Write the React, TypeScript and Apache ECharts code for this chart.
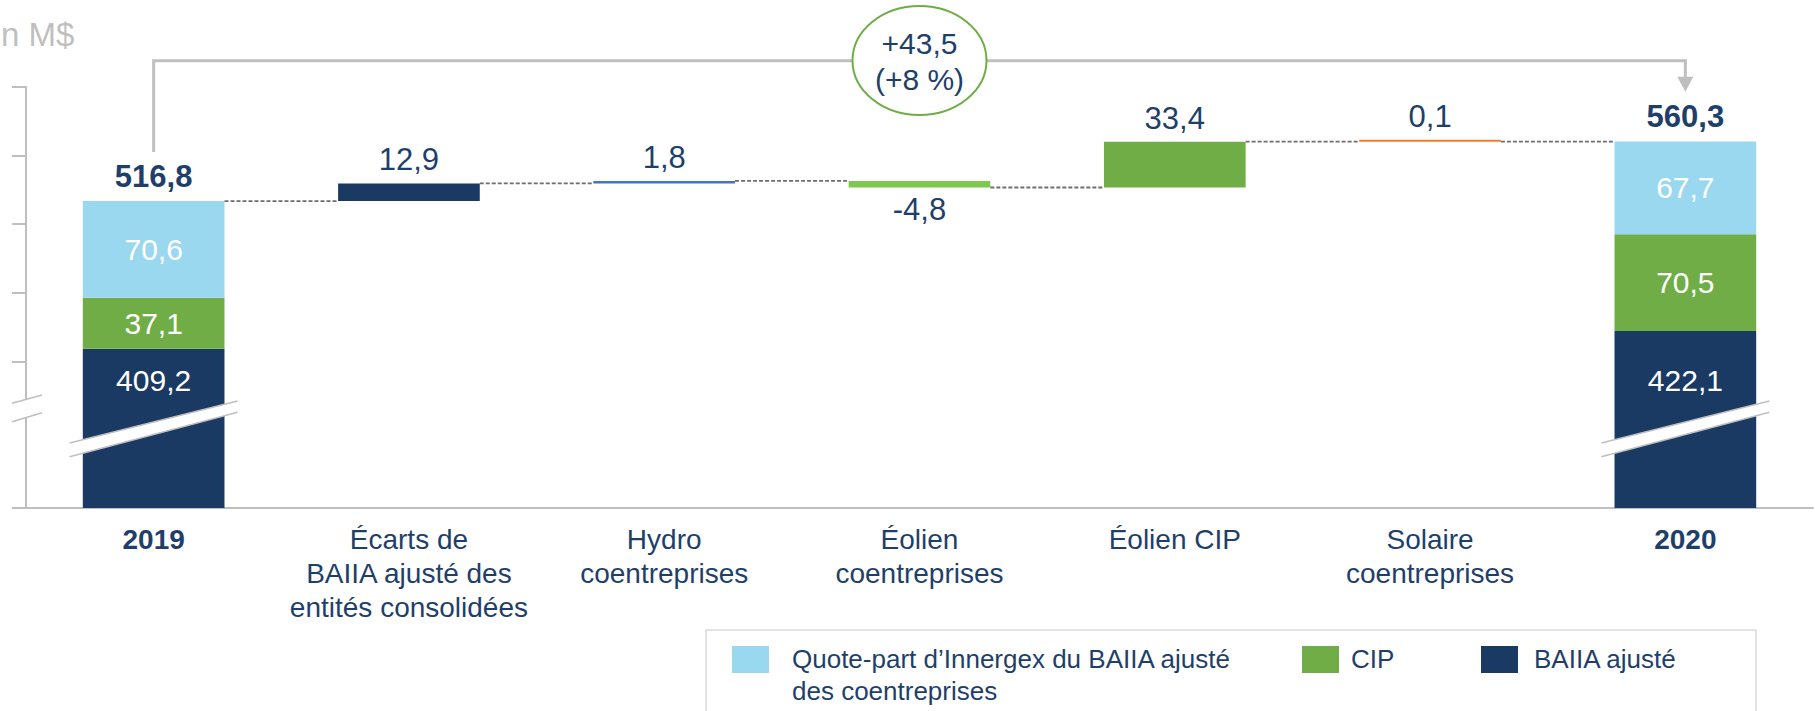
import React, { useEffect, useRef } from 'react';
import * as echarts from 'echarts';

// ---------- data ----------
const categories = [
  '2019',
  'Écarts de\nBAIIA ajusté des\nentités consolidées',
  'Hydro\ncoentreprises',
  'Éolien\ncoentreprises',
  'Éolien CIP',
  'Solaire\ncoentreprises',
  '2020',
];
const yearLabels = ['2019', '2020'];
const baiiaValues = [409.2, null, null, null, null, null, 422.1];
const cipValues = [37.1, null, null, null, null, null, 70.5];
const quotePartValues = [70.6, null, null, null, null, null, 67.7];
const totalValues = [516.8, null, null, null, null, null, 560.3];
const deltaValues = [null, 12.9, 1.8, -4.8, 33.4, 0.1, null];
const deltaColors = [null, '#1B3A63', '#4472C4', '#7EC850', '#70AD47', '#ED7D31', null];
const legendNames = ['Quote-part d’Innergex du BAIIA ajusté\ndes coentreprises', 'CIP', 'BAIIA ajusté'];
const yTickValues = [293, 400, 450, 500, 550, 600];
const Y_MIN = 293;
const Y_MAX = 600;
const unitLabel = 'n M$';

// ---------- style ----------
const FONT = '"Liberation Sans", Arial, sans-serif';
const TEXT_NAVY = '#1F3F6B';
const NAVY = '#1B3A63';
const LIGHT_BLUE = '#9AD8F0';
const GREEN = '#70AD47';
const GREY = '#BFBFBF';
const BAR_RATIO = 0.555;
const GRID_LEFT = 26;

const fmt = (v: number) => v.toFixed(1).replace('.', ',');

export default function App() {
  const ref = useRef<HTMLDivElement>(null);

  useEffect(() => {
    const chart = echarts.init(ref.current!, null, { renderer: 'svg' });

    // waterfall build
    let running = totalValues[0] as number;
    const baseData: any[] = [];
    const deltaData: any[] = [];
    const levels: number[] = [];
    categories.forEach((_, i) => {
      const d = deltaValues[i];
      if (d == null) {
        baseData.push('-');
        deltaData.push('-');
        levels.push(totalValues[i] as number);
        return;
      }
      baseData.push(running + Math.min(d, 0));
      deltaData.push({
        value: Math.abs(d),
        itemStyle: { color: deltaColors[i] },
        label: {
          show: true,
          position: d < 0 ? 'bottom' : 'top',
          distance: d < 0 ? 6 : 8,
          formatter: fmt(d),
          color: TEXT_NAVY,
          fontSize: 31,
          fontFamily: FONT,
        },
      });
      running += d;
      levels.push(running);
    });

    const connectorData = levels.slice(0, levels.length - 1).map((v, i) => [i, v]);
    const totalData = totalValues
      .map((v, i) => (v == null ? null : [i, v]))
      .filter((x) => x != null);

    const stackLabel = () => ({
      show: true,
      position: 'inside',
      color: '#FFFFFF',
      fontSize: 30,
      fontFamily: FONT,
      formatter: (p: any) => fmt(p.value),
    });

    const mkStack = (vals: (number | null)[]) => vals.map((v) => (v == null ? '-' : v));

    const baiiaData = baiiaValues.map((v, i) =>
      v == null
        ? '-'
        : {
            value: v,
            label: {
              show: true,
              position: 'insideTop',
              distance: i === 0 ? 17 : 35,
              color: '#FFFFFF',
              fontSize: 30,
              fontFamily: FONT,
              formatter: fmt(v),
            },
          }
    );

    const option: any = {
      animation: false,
      grid: { left: GRID_LEFT, right: 2, top: 87, bottom: 203, outerBoundsMode: 'none' },
      xAxis: {
        type: 'category',
        data: categories,
        axisLine: { show: true, lineStyle: { color: GREY, width: 2 } },
        axisTick: { show: false },
        axisLabel: {
          interval: 0,
          margin: 14,
          color: TEXT_NAVY,
          fontSize: 28,
          lineHeight: 34,
          fontFamily: FONT,
          formatter: (v: string) => (yearLabels.includes(v) ? `{y|${v}}` : v),
          rich: {
            y: { fontWeight: 'bold', fontSize: 28, lineHeight: 34, color: TEXT_NAVY, fontFamily: FONT },
          },
        },
        splitLine: { show: false },
      },
      yAxis: {
        type: 'value',
        min: Y_MIN,
        max: Y_MAX,
        axisLine: { show: true, lineStyle: { color: GREY, width: 2 } },
        axisTick: {
          show: true,
          length: 14,
          lineStyle: { color: GREY, width: 2 },
          customValues: yTickValues,
        },
        axisLabel: { show: false },
        splitLine: { show: false },
      },
      series: [
        {
          name: 'base',
          type: 'bar',
          stack: 'w',
          barWidth: BAR_RATIO * 100 + '%',
          itemStyle: { color: 'rgba(0,0,0,0)' },
          silent: true,
          data: baseData,
        },
        {
          name: 'delta',
          type: 'bar',
          stack: 'w',
          barWidth: BAR_RATIO * 100 + '%',
          barMinHeight: 2,
          data: deltaData,
        },
        {
          name: legendNames[2],
          type: 'bar',
          stack: 'w',
          barWidth: BAR_RATIO * 100 + '%',
          itemStyle: { color: NAVY },
          data: baiiaData,
        },
        {
          name: legendNames[1],
          type: 'bar',
          stack: 'w',
          barWidth: BAR_RATIO * 100 + '%',
          itemStyle: { color: GREEN },
          label: stackLabel(),
          data: mkStack(cipValues),
        },
        {
          name: legendNames[0],
          type: 'bar',
          stack: 'w',
          barWidth: BAR_RATIO * 100 + '%',
          itemStyle: { color: LIGHT_BLUE },
          label: stackLabel(),
          data: mkStack(quotePartValues),
        },
        {
          name: 'connectors',
          type: 'custom',
          silent: true,
          z: 3,
          data: connectorData,
          renderItem: (params: any, api: any) => {
            const i = api.value(0);
            const lvl = api.value(1);
            const p1 = api.coord([i, lvl]);
            const p2 = api.coord([i + 1, lvl]);
            const half = (api.size([1, 0])[0] * BAR_RATIO) / 2;
            return {
              type: 'line',
              shape: { x1: p1[0] + half, y1: p1[1], x2: p2[0] - half, y2: p2[1] },
              style: { stroke: '#6E6E6E', lineWidth: 1.8, lineDash: [4, 2] },
            };
          },
        },
        {
          name: 'totals',
          type: 'custom',
          silent: true,
          z: 5,
          data: totalData,
          renderItem: (params: any, api: any) => {
            const p = api.coord([api.value(0), api.value(1)]);
            return {
              type: 'text',
              x: p[0],
              y: p[1] - 9,
              style: {
                text: fmt(api.value(1)),
                align: 'center',
                verticalAlign: 'bottom',
                fill: TEXT_NAVY,
                fontSize: 31,
                fontWeight: 'bold',
                fontFamily: FONT,
              },
            };
          },
        },
      ],
    };

    chart.setOption(option);

    // ---------- decorations positioned from the chart's own scales ----------
    const first = 0;
    const last = categories.length - 1;
    const [x0, yB] = chart.convertToPixel({ gridIndex: 0 }, [first, Y_MIN]) as number[];
    const [x6] = chart.convertToPixel({ gridIndex: 0 }, [last, Y_MIN]) as number[];
    const [, yTop0] = chart.convertToPixel({ gridIndex: 0 }, [first, totalValues[first]]) as number[];
    const bracketY = 60.7;
    const midX = (x0 + x6) / 2;
    const change = (totalValues[last] as number) - (totalValues[first] as number);
    const pct = Math.round((change / (totalValues[first] as number)) * 100);

    const breakBand = (cx: number) => [
      {
        type: 'polygon',
        z: 100,
        silent: true,
        shape: {
          points: [
            [cx - 84, yB - 65],
            [cx + 84, yB - 107],
            [cx + 84, yB - 95.7],
            [cx - 84, yB - 51.3],
          ],
        },
        style: { fill: '#FFFFFF' },
      },
      {
        type: 'line',
        z: 101,
        silent: true,
        shape: { x1: cx - 84, y1: yB - 65, x2: cx + 84, y2: yB - 107 },
        style: { stroke: GREY, lineWidth: 1.5 },
      },
      {
        type: 'line',
        z: 101,
        silent: true,
        shape: { x1: cx - 84, y1: yB - 51.3, x2: cx + 84, y2: yB - 95.7 },
        style: { stroke: GREY, lineWidth: 1.5 },
      },
    ];

    const ax = GRID_LEFT;
    const axisBreak = [
      {
        type: 'polygon',
        z: 100,
        silent: true,
        shape: {
          points: [
            [ax - 14, yB - 104.7],
            [ax + 16, yB - 113],
            [ax + 16, yB - 95.3],
            [ax - 14, yB - 86.3],
          ],
        },
        style: { fill: '#FFFFFF' },
      },
      {
        type: 'line',
        z: 101,
        silent: true,
        shape: { x1: ax - 14, y1: yB - 104.7, x2: ax + 16, y2: yB - 113 },
        style: { stroke: GREY, lineWidth: 1.5 },
      },
      {
        type: 'line',
        z: 101,
        silent: true,
        shape: { x1: ax - 14, y1: yB - 86.3, x2: ax + 16, y2: yB - 95.3 },
        style: { stroke: GREY, lineWidth: 1.5 },
      },
    ];

    const legendColors = [LIGHT_BLUE, GREEN, NAVY];
    const legendRectX = [732, 1302, 1481];
    const legendTextX = [792, 1351, 1534];
    const legendItems: any[] = [];
    legendNames.forEach((name, i) => {
      legendItems.push({
        type: 'rect',
        z: 100,
        silent: true,
        shape: { x: legendRectX[i], y: 646, width: 37, height: 27 },
        style: { fill: legendColors[i] },
      });
      legendItems.push({
        type: 'text',
        z: 100,
        silent: true,
        x: legendTextX[i],
        y: 643,
        style: {
          text: name,
          fill: TEXT_NAVY,
          fontSize: 26,
          lineHeight: 32,
          fontFamily: FONT,
          align: 'left',
          verticalAlign: 'top',
        },
      });
    });

    chart.setOption({
      graphic: [
        {
          type: 'text',
          z: 100,
          silent: true,
          x: 1,
          y: 34,
          style: {
            text: unitLabel,
            fill: GREY,
            fontSize: 33,
            fontFamily: FONT,
            align: 'left',
            verticalAlign: 'middle',
          },
        },
        {
          type: 'polyline',
          z: 90,
          silent: true,
          shape: {
            points: [
              [x0, yTop0 - 49],
              [x0, bracketY],
              [x6, bracketY],
              [x6, bracketY + 17],
            ],
          },
          style: { stroke: GREY, lineWidth: 3, fill: 'none' },
        },
        {
          type: 'polygon',
          z: 90,
          silent: true,
          shape: {
            points: [
              [x6 - 8, bracketY + 16],
              [x6 + 8, bracketY + 16],
              [x6, bracketY + 31],
            ],
          },
          style: { fill: GREY },
        },
        {
          type: 'ellipse',
          z: 95,
          silent: true,
          shape: { cx: midX, cy: 60.5, rx: 67, ry: 54.5 },
          style: { fill: '#FFFFFF', stroke: GREEN, lineWidth: 2 },
        },
        {
          type: 'text',
          z: 96,
          silent: true,
          x: midX,
          y: 61,
          style: {
            text: `+${fmt(change)}\n(+${pct} %)`,
            fill: TEXT_NAVY,
            fontSize: 30,
            lineHeight: 36,
            fontFamily: FONT,
            align: 'center',
            verticalAlign: 'middle',
          },
        },
        ...breakBand(x0),
        ...breakBand(x6),
        ...axisBreak,
        {
          type: 'rect',
          z: 99,
          silent: true,
          shape: { x: 706, y: 630, width: 1050, height: 120 },
          style: { fill: 'none', stroke: '#D9D9D9', lineWidth: 1.5 },
        },
        ...legendItems,
      ],
    });

    return () => chart.dispose();
  }, []);

  return (
    <div
      ref={ref}
      style={{ position: 'fixed', left: 0, top: 0, width: 1815, height: 711, background: '#FFFFFF' }}
    />
  );
}
